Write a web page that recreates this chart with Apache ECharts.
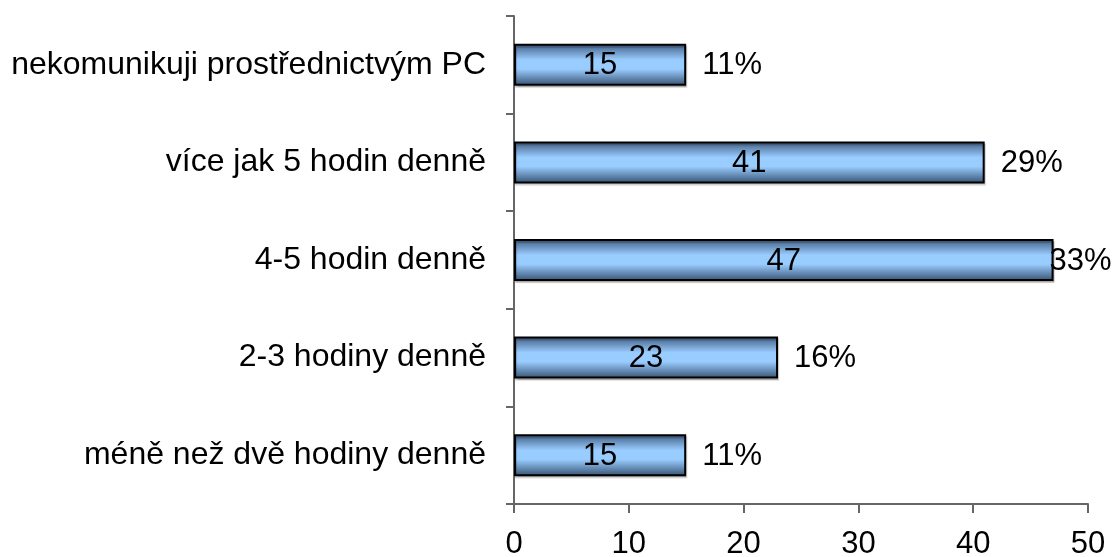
<!DOCTYPE html>
<html>
<head>
<meta charset="utf-8">
<script src="https://cdn.jsdelivr.net/npm/echarts@6/dist/echarts.min.js"></script>
<style>html,body{margin:0;padding:0;background:#fff}#c{width:1116px;height:557px}</style>
</head>
<body>
<div id="c"></div>
<script>
const categories = ["nekomunikuji prostřednictvým PC", "více jak 5 hodin denně", "4-5 hodin denně", "2-3 hodiny denně", "méně než dvě hodiny denně"];
const values = [15, 41, 47, 23, 15];
const percents = ["11%", "29%", "33%", "16%", "11%"];
const xTicks = [0, 10, 20, 30, 40, 50];

const font = "Liberation Sans, Arial, sans-serif";
const chart = echarts.init(document.getElementById('c'));
const grad = new echarts.graphic.LinearGradient(0, 0, 0, 1, [
  {offset: 0, color: '#3f5c80'},
  {offset: 0.38, color: '#99ccff'},
  {offset: 0.6, color: '#99ccff'},
  {offset: 1, color: '#36506f'}
]);
chart.setOption({
  animation: false,
  grid: {left: 514, right: 28, top: 16, bottom: 53, containLabel: false, outerBoundsMode: 'none'},
  xAxis: {
    type: 'value', min: xTicks[0], max: xTicks[xTicks.length - 1], interval: 10,
    splitLine: {show: false},
    axisLine: {show: true, lineStyle: {color: '#666', width: 2}},
    axisTick: {show: true, length: 9, lineStyle: {color: '#666', width: 2}},
    axisLabel: {color: '#000', fontSize: 31, fontFamily: font, margin: 25}
  },
  yAxis: {
    type: 'category', data: categories, inverse: true,
    axisLine: {show: true, lineStyle: {color: '#666', width: 2}},
    axisTick: {show: true, length: 8, lineStyle: {color: '#666', width: 2}},
    axisLabel: {color: '#000', fontSize: 32, fontFamily: font, margin: 28}
  },
  series: [
    {
      type: 'bar', data: values, barWidth: '43%',
      itemStyle: {color: grad, borderColor: '#000', borderWidth: 2,
        shadowColor: 'rgba(0,0,0,0.2)', shadowOffsetX: 1, shadowOffsetY: 2, shadowBlur: 1},
      label: {show: true, position: 'inside', offset: [0, 1], color: '#000', fontSize: 31, fontFamily: font}
    },
    {
      type: 'bar', data: values.map((v, i) => {
        const item = {value: v};
        if (i === 2) item.label = {distance: -4};
        return item;
      }), barWidth: '43%', barGap: '-100%', silent: true,
      itemStyle: {color: 'rgba(0,0,0,0)'},
      label: {show: true, position: 'right', distance: 16, offset: [0, 1], color: '#000', fontSize: 31, fontFamily: font,
        formatter: p => percents[p.dataIndex]}
    }
  ]
});
</script>
</body>
</html>
